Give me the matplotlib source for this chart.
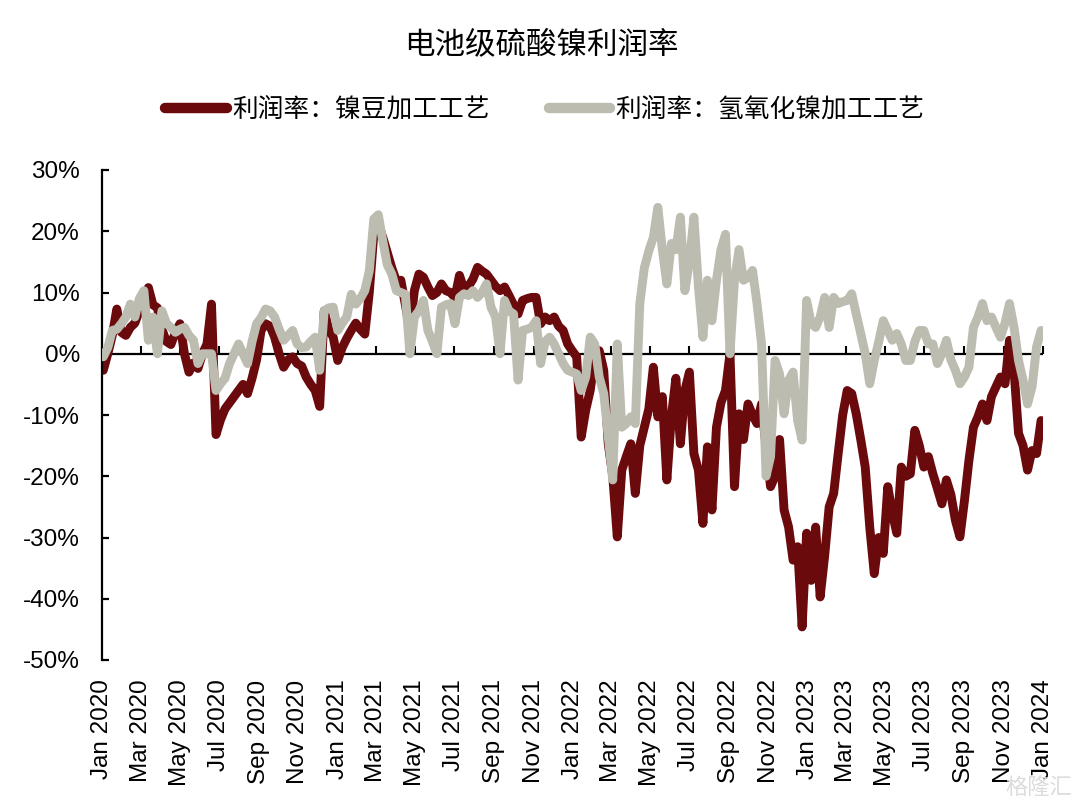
import matplotlib
matplotlib.use('Agg')
import matplotlib.pyplot as plt
import matplotlib.dates as mdates
from matplotlib.font_manager import FontProperties
import pandas as pd
import numpy as np

title = '电池级硫酸镍利润率'
series_names = ['利润率：镍豆加工工艺', '利润率：氢氧化镍加工工艺']

# weekly observations (Fridays) from 2020-01-03 to 2023-12-29
dates = pd.date_range('2020-01-03', periods=209, freq='7D')

nickel_bean = [
    -2.7, 0, 3, 7.3, 3.5, 3, 4.3, 5, 7, 9,
    10.8, 8, 7.5, 4, 2, 1.5, 3.5, 4.9, 0, -3,
    -1.5, -2.4, 0, 1.6, 8.1, -13.2, -10.8, -9, -8, -7,
    -6, -5, -6.5, -4, -1, 3.8, 4.9, 4.5, 2.7, 0,
    -2.2, -1, -0.5, -1.6, -2, -3.8, -5, -6, -8.6, 7,
    4, 2.7, -1.1, 1, 2.5, 3.8, 5, 4, 3.2, 10,
    19.5, 21, 19, 16.5, 14, 11.9, 12, 8, 3.8, 10.3,
    13, 12.5, 10.9, 9.5, 10, 11.4, 10.3, 10, 9.2, 12.8,
    10.5, 11, 12.2, 14.1, 13.5, 13, 12, 11, 10.3, 10.9,
    9.5, 8, 6.5, 8.7, 9, 9.2, 9.2, 4.9, 6, 5.4,
    6, 4.5, 3.8, 1.6, 0.5, -0.5, -13.6, -9.2, -6, -0.5,
    0.5, -2.7, -14.7, -20, -29.9, -19, -16.8, -14.7, -22.8, -15,
    -12, -9, -2.2, -10.3, -7, -20.6, -10.3, -4, -14.7, -6,
    -3, -16.3, -19, -27.7, -15.2, -25.5, -12, -8, -6, 0,
    -21.7, -9.8, -14, -8.2, -10, -11.4, -8.2, -15.2, -21.7, -20,
    -14, -25.5, -28.3, -33.7, -31.5, -44.6, -29.3, -37, -28.3, -39.7,
    -33, -25, -22.8, -16.3, -10, -6, -6.5, -9.8, -14, -18.5,
    -28.3, -35.9, -30, -32.6, -21.7, -26, -29.3, -18.5, -20, -19.6,
    -12.5, -15, -18.5, -16.8, -19.6, -22, -24.5, -20.6, -23, -27.2,
    -29.9, -24, -17.4, -12, -10.3, -8.2, -10.9, -7, -5.4, -3.8,
    -4.9, 2.2, -2.7, -13, -15, -19, -15.8, -16.3, -10.9,
]

nickel_hydroxide = [
    -0.5, 1, 3.8, 4, 4.9, 6, 8.1, 6, 9, 10.3,
    2.2, 6, 0, 7, 5, 4.3, 3.5, 4, 4.3, 3,
    2.2, -1.6, 0, 0, 0, -6, -4.9, -4, -1.6, 0,
    1.6, 0, -1.6, 2, 4.9, 5.9, 7.3, 7, 6, 4,
    2.2, 3, 3.8, 1.6, 1, 1.1, 2, 2.7, -2.7, 7,
    7.5, 7.6, 3.8, 5, 6, 9.7, 8.1, 9, 10.3, 13.5,
    22, 22.7, 18.4, 14.5, 13, 10.3, 10, 9.7, 0, 6,
    7, 8.7, 3.8, 2, 0, 7.6, 8, 8.2, 4.9, 9.2,
    9.8, 9.5, 10.3, 9.2, 10, 11.4, 7.6, 6, 0, 8.7,
    7, 6.5, -4.3, 3.8, 4, 4.3, 5.4, -1.6, 2, 2.7,
    1.6, 0, -1.6, -2.7, -3, -3.3, -6, -3.8, 2.7, 1.6,
    -3.8, -6.5, -13.6, -20.6, 1.6, -12, -11.4, -10.3, -11.4, 8.2,
    14, 16.8, 19, 23.9, 17, 11.4, 18, 17, 22.3, 10.3,
    15, 22.3, 11, 2.7, 12, 5.4, 12, 17, 19.5, 0,
    12, 17, 12, 12.5, 13.6, 8.2, 1.6, -20, -16.8, -1.1,
    -3.3, -9.8, -4.3, -3, -10.9, -14.1, 8.7, 5, 4.3, 6,
    9.2, 4.3, 9.2, 8.2, 8.5, 8.7, 9.8, 6.5, 3.3, 0,
    -4.9, -1.1, 2, 5.4, 3.8, 2.2, 3.3, 1.6, -1.1, -1.1,
    2, 3.8, 3.8, 1.6, 1.6, -1.6, 0, 2.2, -1, -2.7,
    -4.9, -3.8, -2.2, 4.3, 6, 8.2, 5.4, 6, 4.3, 2.7,
    5, 8.2, 4.3, -1.1, -4.3, -8.2, -5.4, 1.1, 3.8,
]

y_ticks = [-50, -40, -30, -20, -10, 0, 10, 20, 30]
y_tick_labels = ['-50%', '-40%', '-30%', '-20%', '-10%', '0%', '10%', '20%', '30%']

RED = '#6B0A0C'
GRAY = '#BDBCB1'
LATIN = 'Liberation Sans'
CJK = 'Noto Sans CJK SC'

fig = plt.figure(figsize=(10.8, 8.09), dpi=100)
ax = fig.add_axes([102 / 1080, 1 - 660 / 809, (1043 - 102) / 1080, (660 - 170) / 809])

ax.axhline(0, color='black', lw=1.6, zorder=1)
l1, = ax.plot(dates, nickel_bean, color=RED, lw=6.4, solid_capstyle='round',
              solid_joinstyle='round', zorder=2, label=series_names[0])
l2, = ax.plot(dates, nickel_hydroxide, color=GRAY, lw=6.4, solid_capstyle='round',
              solid_joinstyle='round', zorder=3, label=series_names[1])

ax.set_xlim(pd.Timestamp('2020-01-01'), pd.Timestamp('2024-01-01'))
ax.set_ylim(-50, 30)

# x ticks every two months, labels at bottom, tick marks on the zero line
ax.xaxis.set_major_locator(mdates.MonthLocator(bymonth=(1, 3, 5, 7, 9, 11)))
ax.xaxis.set_major_formatter(mdates.DateFormatter('%b %Y'))
ax.tick_params(axis='x', length=0, pad=14, labelsize=17.5)
for lab in ax.get_xticklabels():
    lab.set_rotation(90)
    lab.set_family(LATIN)
tick_dates = pd.date_range('2020-01-01', '2024-01-01', freq='2MS')
ax.plot(tick_dates, np.zeros(len(tick_dates)), ls='none', marker=2, ms=6,
        mew=1.5, color='black', zorder=1, clip_on=False)

ax.set_yticks(y_ticks)
ax.set_yticklabels(y_tick_labels, family=LATIN, fontsize=17.5)
ax.tick_params(axis='y', direction='in', length=5, width=1.6, pad=16)

for s in ['top', 'right', 'bottom']:
    ax.spines[s].set_visible(False)
ax.spines['left'].set_linewidth(1.6)

fig.text(541 / 1080, 1 - 45 / 809, title, ha='center', va='center', fontsize=22, family=CJK)

leg = fig.legend(handles=[l1, l2], loc='center', bbox_to_anchor=(545 / 1080, 1 - 110 / 809),
                 ncol=2, frameon=False, prop=FontProperties(family=CJK, size=18.5),
                 handlelength=2.4, handletextpad=0.2, columnspacing=2.3)
for h in leg.get_lines():
    h.set_linewidth(7.5)
    h.set_solid_capstyle('round')

fig.text(1072 / 1080, 1 - 787 / 809, '格隆汇', ha='right', va='center', fontsize=16,
         color='#DCDCDC', family=CJK)

fig.savefig('out.png', dpi=100)
